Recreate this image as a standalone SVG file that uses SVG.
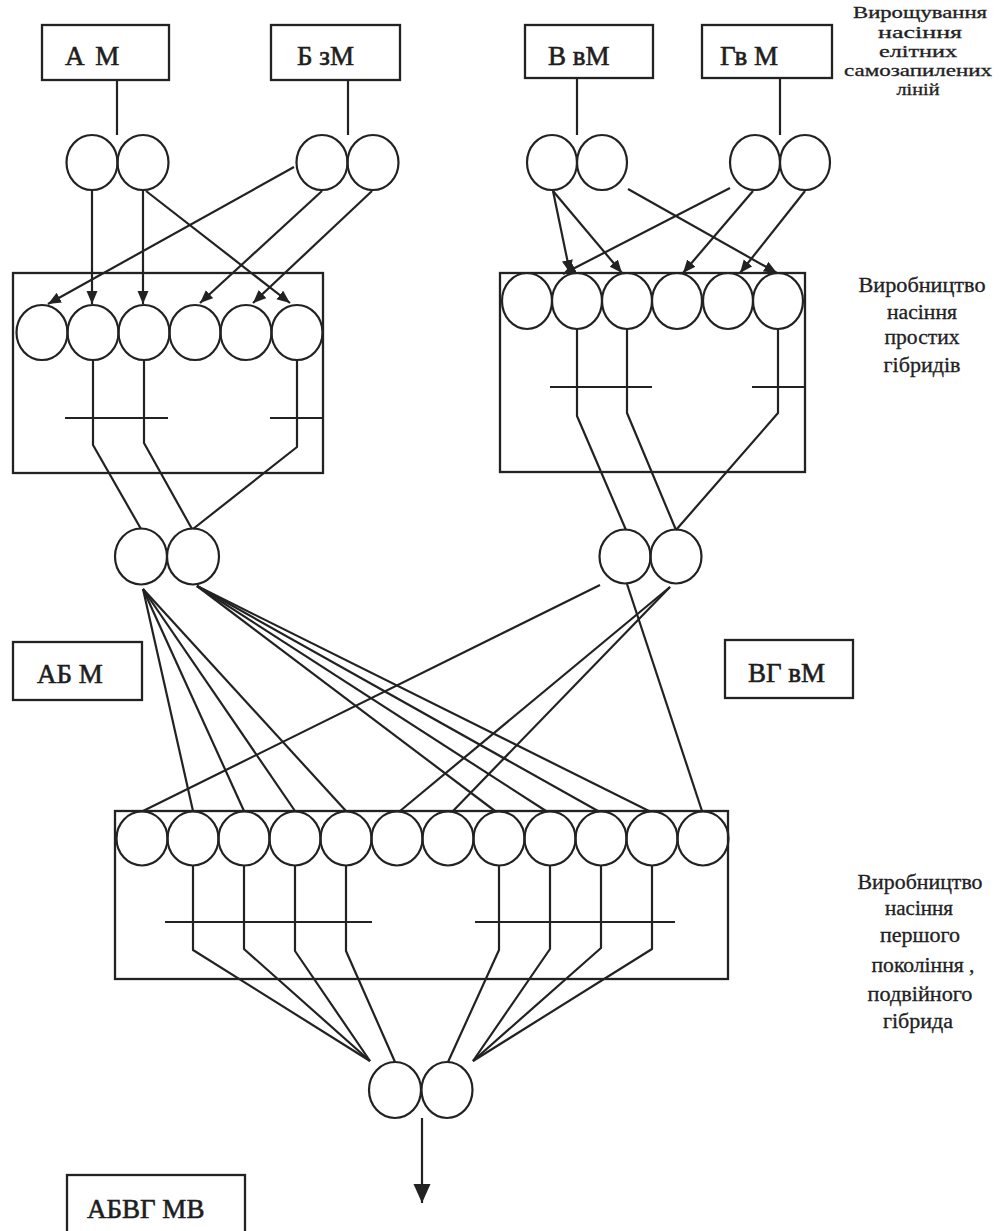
<svg xmlns="http://www.w3.org/2000/svg" width="1007" height="1231" viewBox="0 0 1007 1231">
<defs>
<style>
.box{fill:none;stroke:#222;stroke-width:2.3}
.nd{fill:none;stroke:#222;stroke-width:2.2}
.ln{fill:none;stroke:#222;stroke-width:2.2;stroke-linejoin:round}
.ar{fill:none;stroke:#222;stroke-width:2.2;marker-end:url(#arS)}
.lbl{font-family:"Liberation Serif","Times New Roman",serif;font-size:27px;fill:#1e1e1e;stroke:#1e1e1e;stroke-width:0.6}
.side{font-family:"Liberation Serif","Times New Roman",serif;font-size:20px;fill:#222;stroke:#222;stroke-width:0.3;text-anchor:middle}
.top{font-size:16.5px}
</style>
<marker id="arS" markerUnits="userSpaceOnUse" markerWidth="14" markerHeight="12" refX="13" refY="5.5" orient="auto">
<path d="M0,0 L13,5.5 L0,11 z" fill="#222"/>
</marker>
<marker id="arB" markerUnits="userSpaceOnUse" markerWidth="20" markerHeight="18" refX="19" refY="8.5" orient="auto">
<path d="M0,0 L19,8.5 L0,17 z" fill="#222"/>
</marker>
</defs>
<rect width="1007" height="1231" fill="#fff"/>

<!-- top line boxes -->
<g id="box-AM"><rect class="box" x="42" y="25" width="127" height="55"/><text class="lbl" x="65" y="65" word-spacing="4">А М</text></g>
<g id="box-BzM"><rect class="box" x="271" y="25" width="129" height="55"/><text class="lbl" x="297" y="65">Б зМ</text></g>
<g id="box-VvM"><rect class="box" x="525" y="25" width="128" height="53"/><text class="lbl" x="548" y="65">В вМ</text></g>
<g id="box-GvM"><rect class="box" x="702" y="25" width="130" height="53"/><text class="lbl" x="720" y="65">Гв М</text></g>

<!-- top pairs -->
<g id="pair-AM"><ellipse class="nd" cx="92" cy="162.5" rx="25.5" ry="27.5"/><ellipse class="nd" cx="143" cy="162.5" rx="25.5" ry="27.5"/></g>
<g id="pair-BzM"><ellipse class="nd" cx="322" cy="162.5" rx="25.5" ry="27.5"/><ellipse class="nd" cx="373" cy="162.5" rx="25.5" ry="27.5"/></g>
<g id="pair-VvM"><ellipse class="nd" cx="552" cy="162.5" rx="25" ry="27.5"/><ellipse class="nd" cx="602" cy="162.5" rx="25" ry="27.5"/></g>
<g id="pair-GvM"><ellipse class="nd" cx="755" cy="162.5" rx="25" ry="27.5"/><ellipse class="nd" cx="805" cy="162.5" rx="25" ry="27.5"/></g>

<!-- simple hybrid plot 1 -->
<g id="plot-AB">
<rect class="box" x="13" y="273" width="310" height="200"/>
<ellipse class="nd" cx="42" cy="332.5" rx="25.5" ry="27.5"/>
<ellipse class="nd" cx="93" cy="332.5" rx="25.5" ry="27.5"/>
<ellipse class="nd" cx="144" cy="332.5" rx="25.5" ry="27.5"/>
<ellipse class="nd" cx="195" cy="332.5" rx="25.5" ry="27.5"/>
<ellipse class="nd" cx="246" cy="332.5" rx="25.5" ry="27.5"/>
<ellipse class="nd" cx="297" cy="332.5" rx="25.5" ry="27.5"/>
</g>

<!-- simple hybrid plot 2 -->
<g id="plot-VG">
<rect class="box" x="500" y="273" width="305" height="199"/>
<ellipse class="nd" cx="527" cy="301" rx="25" ry="28"/>
<ellipse class="nd" cx="577" cy="301" rx="25" ry="28"/>
<ellipse class="nd" cx="627" cy="301" rx="25" ry="28"/>
<ellipse class="nd" cx="677" cy="301" rx="25" ry="28"/>
<ellipse class="nd" cx="728" cy="301" rx="25" ry="28"/>
<ellipse class="nd" cx="778" cy="301" rx="25" ry="28"/>
</g>

<!-- single hybrid pairs -->
<g id="pair-AB"><ellipse class="nd" cx="141" cy="556.5" rx="26" ry="28"/><ellipse class="nd" cx="193" cy="556.5" rx="26" ry="28"/></g>
<g id="pair-VG"><ellipse class="nd" cx="625" cy="556.5" rx="25.5" ry="27"/><ellipse class="nd" cx="676" cy="556.5" rx="25.5" ry="27"/></g>
<g id="box-ABM"><rect class="box" x="13" y="642" width="129" height="58"/><text class="lbl" x="37" y="683">АБ М</text></g>
<g id="box-VGvM"><rect class="box" x="725" y="640" width="128" height="58"/><text class="lbl" x="748" y="682">ВГ вМ</text></g>

<!-- double hybrid plot -->
<g id="plot-ABVG">
<rect class="box" x="115" y="811" width="613" height="168"/>
<ellipse class="nd" cx="142" cy="838.5" rx="25.5" ry="27"/>
<ellipse class="nd" cx="193" cy="838.5" rx="25.5" ry="27"/>
<ellipse class="nd" cx="244" cy="838.5" rx="25.5" ry="27"/>
<ellipse class="nd" cx="295" cy="838.5" rx="25.5" ry="27"/>
<ellipse class="nd" cx="346" cy="838.5" rx="25.5" ry="27"/>
<ellipse class="nd" cx="397" cy="838.5" rx="25.5" ry="27"/>
<ellipse class="nd" cx="448" cy="838.5" rx="25.5" ry="27"/>
<ellipse class="nd" cx="499" cy="838.5" rx="25.5" ry="27"/>
<ellipse class="nd" cx="550" cy="838.5" rx="25.5" ry="27"/>
<ellipse class="nd" cx="601" cy="838.5" rx="25.5" ry="27"/>
<ellipse class="nd" cx="652" cy="838.5" rx="25.5" ry="27"/>
<ellipse class="nd" cx="703" cy="838.5" rx="25.5" ry="27"/>
</g>

<g id="pair-ABVG"><ellipse class="nd" cx="395" cy="1090" rx="26" ry="28"/><ellipse class="nd" cx="447" cy="1090" rx="25.5" ry="28"/></g>
<g id="box-ABVGMV"><rect class="box" x="67" y="1175" width="178" height="70"/><text class="lbl" x="87" y="1218">АБВГ МВ</text></g>

<!-- side labels -->
<g id="label-elite">
<text class="side top" x="920" y="18" textLength="134" lengthAdjust="spacingAndGlyphs">Вирощування</text>
<text class="side top" x="920" y="38" textLength="84" lengthAdjust="spacingAndGlyphs">насіння</text>
<text class="side top" x="918" y="57" textLength="78" lengthAdjust="spacingAndGlyphs">елітних</text>
<text class="side top" x="918" y="76" textLength="148" lengthAdjust="spacingAndGlyphs">самозапилених</text>
<text class="side top" x="918" y="95" textLength="43" lengthAdjust="spacingAndGlyphs">ліній</text>
</g>
<g id="label-simple">
<text class="side" x="922" y="292" textLength="127" lengthAdjust="spacingAndGlyphs">Виробництво</text>
<text class="side" x="922" y="319" textLength="70" lengthAdjust="spacingAndGlyphs">насіння</text>
<text class="side" x="922" y="344" textLength="75" lengthAdjust="spacingAndGlyphs">простих</text>
<text class="side" x="922" y="372" textLength="77" lengthAdjust="spacingAndGlyphs">гібридів</text>
</g>
<g id="label-double">
<text class="side" x="920" y="889" textLength="125" lengthAdjust="spacingAndGlyphs">Виробництво</text>
<text class="side" x="919" y="915" textLength="68" lengthAdjust="spacingAndGlyphs">насіння</text>
<text class="side" x="920" y="942" textLength="80" lengthAdjust="spacingAndGlyphs">першого</text>
<text class="side" x="923" y="972" textLength="103" lengthAdjust="spacingAndGlyphs">покоління ,</text>
<text class="side" x="920" y="1001" textLength="105" lengthAdjust="spacingAndGlyphs">подвійного</text>
<text class="side" x="918" y="1028" textLength="70" lengthAdjust="spacingAndGlyphs">гібрида</text>
</g>

<g id="connectors">
<!-- box to pair -->
<line class="ln" x1="117" y1="80" x2="117" y2="135"/>
<line class="ln" x1="348" y1="80" x2="348" y2="135"/>
<line class="ln" x1="577" y1="78" x2="577" y2="135"/>
<line class="ln" x1="780" y1="78" x2="780" y2="135"/>
<!-- arrows into plot 1 -->
<line class="ar" x1="294" y1="167" x2="48" y2="304"/>
<line class="ar" x1="92" y1="190" x2="92" y2="304"/>
<line class="ar" x1="143" y1="190" x2="143" y2="304"/>
<line class="ar" x1="322" y1="191" x2="200" y2="303"/>
<line class="ar" x1="372" y1="191" x2="253" y2="303"/>
<line class="ar" x1="146" y1="191" x2="290" y2="303"/>
<!-- arrows into plot 2 -->
<line class="ar" x1="553" y1="191" x2="570" y2="273"/>
<line class="ar" x1="553" y1="191" x2="622" y2="273"/>
<line class="ar" x1="628" y1="189" x2="777" y2="273"/>
<line class="ar" x1="730" y1="188" x2="563" y2="274"/>
<line class="ar" x1="753" y1="191" x2="683" y2="273"/>
<line class="ar" x1="805" y1="191" x2="740" y2="273"/>
<!-- plot 1 inner -->
<line class="ln" x1="65" y1="418" x2="168" y2="418"/>
<line class="ln" x1="270" y1="418" x2="323" y2="418"/>
<polyline class="ln" points="93,360 93,445 141,529"/>
<polyline class="ln" points="144,360 144,443 192,529"/>
<polyline class="ln" points="297,360 297,447 193,529"/>
<!-- plot 2 inner -->
<line class="ln" x1="550" y1="387" x2="652" y2="387"/>
<line class="ln" x1="752" y1="387" x2="805" y2="387"/>
<polyline class="ln" points="577,329 577,416 626,530"/>
<polyline class="ln" points="627,329 627,413 676,530"/>
<polyline class="ln" points="778,329 778,413 676,530"/>
<!-- fan from AB -->
<line class="ln" x1="143" y1="589" x2="193" y2="811"/>
<line class="ln" x1="143" y1="589" x2="244" y2="811"/>
<line class="ln" x1="143" y1="589" x2="295" y2="811"/>
<line class="ln" x1="143" y1="589" x2="346" y2="811"/>
<line class="ln" x1="197" y1="586" x2="495" y2="811"/>
<line class="ln" x1="197" y1="586" x2="546" y2="811"/>
<line class="ln" x1="197" y1="586" x2="598" y2="811"/>
<line class="ln" x1="197" y1="586" x2="649" y2="811"/>
<!-- fan from VG -->
<line class="ln" x1="600" y1="585" x2="143" y2="811"/>
<line class="ln" x1="670" y1="587" x2="400" y2="811"/>
<line class="ln" x1="670" y1="587" x2="453" y2="811"/>
<line class="ln" x1="627" y1="584" x2="702" y2="811"/>
<!-- plot 3 inner -->
<line class="ln" x1="165" y1="922" x2="372" y2="922"/>
<line class="ln" x1="475" y1="922" x2="675" y2="922"/>
<polyline class="ln" points="193,865 193,950 370,1061"/>
<polyline class="ln" points="244,865 244,949 370,1061"/>
<polyline class="ln" points="295,865 295,951 370,1061"/>
<polyline class="ln" points="346,865 346,951 395,1062"/>
<polyline class="ln" points="499,865 499,950 448,1062"/>
<polyline class="ln" points="550,865 550,949 473,1061"/>
<polyline class="ln" points="601,865 601,948 473,1061"/>
<polyline class="ln" points="652,865 652,949 473,1061"/>
<!-- output arrow -->
<line class="ln" x1="422" y1="1118" x2="422" y2="1203" marker-end="url(#arB)"/>
</g>
</svg>
